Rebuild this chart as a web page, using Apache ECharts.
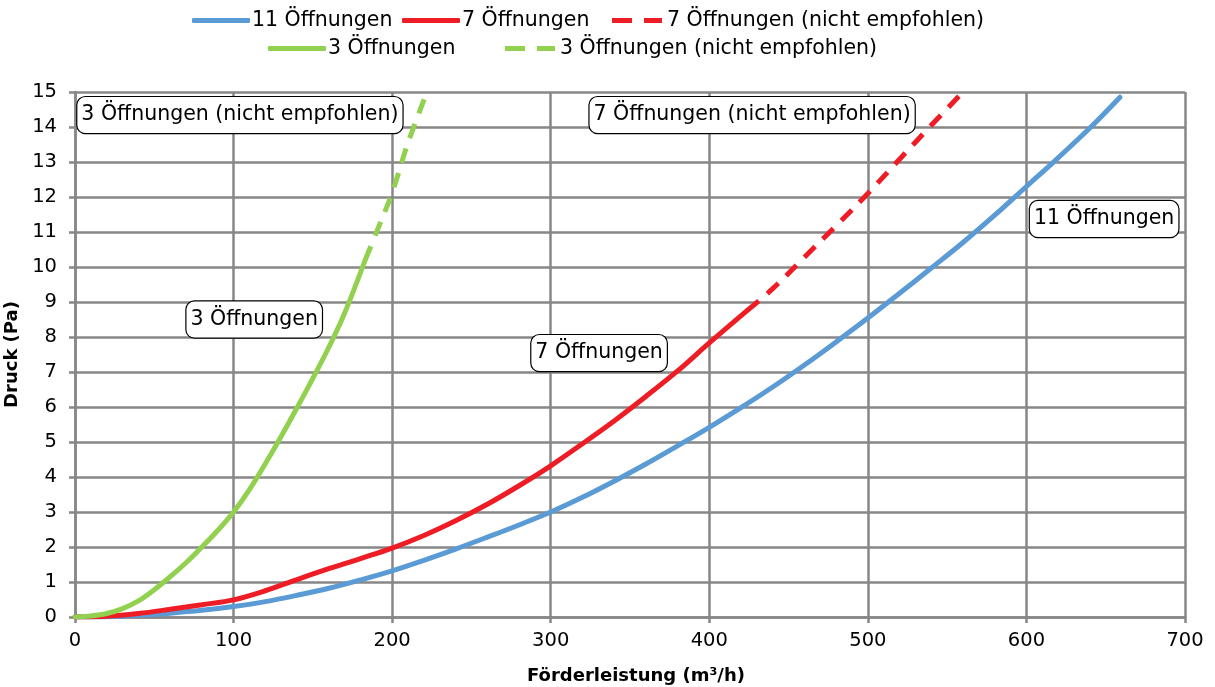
<!DOCTYPE html>
<html>
<head>
<meta charset="utf-8">
<script src="https://cdn.jsdelivr.net/npm/echarts@6/dist/echarts.min.js"></script>
<style>
  html, body { margin: 0; padding: 0; background: #fff; }
  #chart { width: 1215px; height: 687px; }
</style>
</head>
<body>
<div id="chart"></div>
<script>
// Förderleistung (m³/h) and Druck (Pa) per number of openings
const blueX  = [0, 20, 40, 60, 80, 100, 120, 140, 160, 180, 200, 220, 240, 260, 280, 300, 320, 340, 360, 380, 400, 420, 440, 460, 480, 500, 520, 540, 560, 580, 600, 620, 640, 659];
const blueY  = [0, 0.01, 0.05, 0.11, 0.19, 0.3, 0.44, 0.62, 0.82, 1.06, 1.32, 1.62, 1.94, 2.28, 2.63, 3.0, 3.42, 3.88, 4.37, 4.89, 5.42, 5.98, 6.57, 7.2, 7.86, 8.54, 9.25, 9.97, 10.7, 11.48, 12.3, 13.12, 13.97, 14.85];

const redX   = [0, 20, 40, 60, 80, 100, 120, 140, 160, 180, 200, 220, 240, 260, 280, 300, 320, 340, 360, 380, 400, 424];
const redY   = [0, 0.02, 0.1, 0.22, 0.35, 0.49, 0.75, 1.07, 1.38, 1.67, 1.97, 2.33, 2.75, 3.22, 3.75, 4.32, 4.95, 5.6, 6.3, 7.03, 7.83, 8.76];
const redDashX = [424, 440, 460, 480, 500, 520, 540, 560];
const redDashY = [8.76, 9.38, 10.28, 11.18, 12.1, 13.08, 14.05, 15.0];

const greenX = [0, 10, 20, 30, 40, 50, 60, 70, 80, 90, 100, 110, 120, 130, 140, 150, 160, 170, 183];
const greenY = [0, 0.03, 0.1, 0.24, 0.46, 0.78, 1.15, 1.55, 2.0, 2.47, 3.0, 3.64, 4.38, 5.16, 5.98, 6.82, 7.7, 8.68, 10.2];
const greenDashX = [183, 190, 200, 210, 222];
const greenDashY = [10.2, 10.98, 12.12, 13.55, 15.0];

const xTicks = [0, 100, 200, 300, 400, 500, 600, 700];
const yTicks = [0, 1, 2, 3, 4, 5, 6, 7, 8, 9, 10, 11, 12, 13, 14, 15];

// Text boxes placed in data coordinates
const noteText = ['3 Öffnungen (nicht empfohlen)', '7 Öffnungen (nicht empfohlen)', '3 Öffnungen', '7 Öffnungen', '11 Öffnungen'];
const noteX    = [104, 427, 113, 330.5, 649];
const noteY    = [14.34, 14.34, 8.5, 7.54, 11.37];

const FONT = '"DejaVu Sans", sans-serif';
const BLUE = '#5B9BD5', RED = '#EE1C25', GREEN = '#92D050';
const GRID = '#878787';
const INK = '#000';

// legend icons: a solid bar and two dashes
const ICON_SOLID = 'roundRect';
const ICON_DASH = 'path://M0,0H20V5H0Z M32,0H50V5H32Z';

const pairs = (xs, ys) => xs.map((x, i) => [x, ys[i]]);

function lineSeries(name, xs, ys, color, dashed) {
  return {
    name: name,
    type: 'line',
    data: pairs(xs, ys),
    smooth: 0.35,
    showSymbol: false,
    symbol: 'none',
    lineStyle: { color: color, width: 5, type: dashed ? [15, 11] : 'solid', cap: dashed ? 'butt' : 'round' },
    itemStyle: { color: color },
    z: 3
  };
}

function legendItem(name, left, top, dashed) {
  return {
    left: left, top: top, orient: 'horizontal',
    itemWidth: dashed ? 50 : 58, itemHeight: 5, padding: 0,
    icon: dashed ? ICON_DASH : ICON_SOLID,
    textStyle: { fontFamily: FONT, fontSize: 20.5, color: INK, padding: [0, 0, 0, dashed ? 0 : -3] },
    data: [name]
  };
}

const option = {
  animation: false,
  backgroundColor: '#fff',
  legend: [
    legendItem('11 Öffnungen', 192, 10, false),
    legendItem('7 Öffnungen', 402, 10, false),
    legendItem('7 Öffnungen (nicht empfohlen)', 612, 10, true),
    legendItem('3 Öffnungen', 268, 38, false),
    legendItem('3 Öffnungen (nicht empfohlen)', 505, 38, true)
  ],
  grid: { left: 75, right: 30, top: 92, bottom: 70, containLabel: false, outerBoundsMode: 'none' },
  xAxis: {
    type: 'value', min: xTicks[0], max: xTicks[xTicks.length - 1], interval: 100,
    name: 'Förderleistung (m³/h)', nameLocation: 'middle', nameGap: 50,
    nameTextStyle: { fontFamily: FONT, fontSize: 18, fontWeight: 'bold', color: INK, padding: [0, 0, 0, 12] },
    axisLine: { show: true, lineStyle: { color: GRID, width: 2.5 } },
    axisTick: { show: true, length: 6, lineStyle: { color: GRID, width: 2.5 } },
    axisLabel: { fontFamily: FONT, fontSize: 19.5, color: INK, margin: 14 },
    splitLine: { show: true, lineStyle: { color: GRID, width: 2.5 } }
  },
  yAxis: {
    type: 'value', min: yTicks[0], max: yTicks[yTicks.length - 1], interval: 1,
    name: 'Druck (Pa)', nameLocation: 'middle', nameGap: 49, nameRotate: 90,
    nameTextStyle: { fontFamily: FONT, fontSize: 18, fontWeight: 'bold', color: INK },
    axisLine: { show: true, lineStyle: { color: GRID, width: 2.5 } },
    axisTick: { show: true, length: 6, lineStyle: { color: GRID, width: 2.5 } },
    axisLabel: { fontFamily: FONT, fontSize: 19.5, color: INK, margin: 18 },
    splitLine: { show: true, lineStyle: { color: GRID, width: 2.5 } }
  },
  series: [
    lineSeries('11 Öffnungen', blueX, blueY, BLUE, false),
    lineSeries('7 Öffnungen', redX, redY, RED, false),
    lineSeries('7 Öffnungen (nicht empfohlen)', redDashX, redDashY, RED, true),
    lineSeries('3 Öffnungen', greenX, greenY, GREEN, false),
    lineSeries('3 Öffnungen (nicht empfohlen)', greenDashX, greenDashY, GREEN, true),
    {
      name: 'notes',
      type: 'scatter',
      symbolSize: 0,
      z: 5,
      silent: true,
      itemStyle: { opacity: 1 },
      data: noteText.map((t, i) => ({ value: [noteX[i], noteY[i]], name: t })),
      label: {
        show: true, position: 'inside',
        formatter: p => p.name,
        fontFamily: FONT, fontSize: 20.5, color: INK, opacity: 1,
        textBorderWidth: 0,
        backgroundColor: '#fff', borderColor: '#000', borderWidth: 1.2, borderRadius: 8,
        padding: [8, 4, 7, 4]
      }
    }
  ]
};

const chart = echarts.init(document.getElementById('chart'), null, { renderer: 'canvas' });
chart.setOption(option);
</script>
</body>
</html>
